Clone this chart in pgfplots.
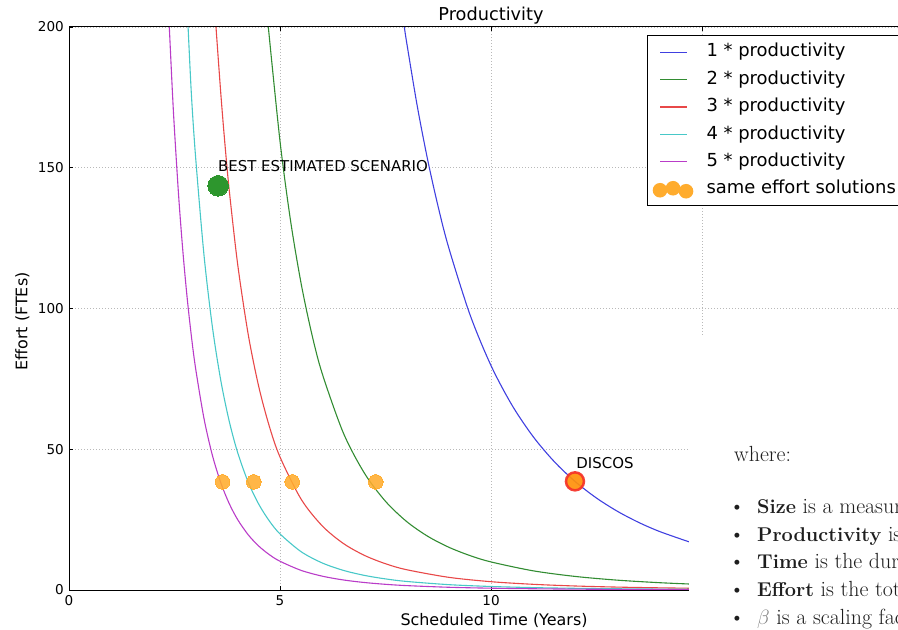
\documentclass[border=0pt]{standalone}
\usepackage{fontspec}
\setsansfont{DejaVu Sans}
\usepackage{pgfplots}
\pgfplotsset{compat=1.18}
\definecolor{cblue}{RGB}{64,64,224}
\definecolor{cgreen}{RGB}{50,140,50}
\definecolor{cred}{RGB}{232,72,72}
\definecolor{ccyan}{RGB}{72,200,200}
\definecolor{cmag}{RGB}{185,60,200}
\definecolor{orangept}{RGB}{255,172,45}
\definecolor{dotgreen}{RGB}{45,150,45}
\definecolor{dotred}{RGB}{245,50,40}
\definecolor{discosfill}{RGB}{255,145,10}
\definecolor{doctext}{RGB}{30,30,30}
\begin{document}
\begin{tikzpicture}
\useasboundingbox (0,0) rectangle (898bp,630bp);
\clip (0,0) rectangle (898bp,630bp);
\begin{axis}[
  at={(69bp,40bp)}, anchor=south west, scale only axis,
  width=844bp, height=563bp,
  xmin=0, xmax=20, ymin=0, ymax=200,
  xtick={0,5,10,15,20}, ytick={0,50,100,150,200},
  tick align=inside, major tick length=4bp,
  axis line style={line width=1bp, black},
  tick style={line width=0.8bp, black},
  grid=major,
  major grid style={gray!55, line width=0.7bp, dash pattern=on 1bp off 2bp},
  /pgf/number format/assume math mode=true,
  ticklabel style={font=\sffamily\fontsize{13.6}{16}\selectfont, inner sep=0pt},
  xticklabel style={anchor=north, yshift=-5bp},
  yticklabel style={anchor=east, xshift=-5bp},
  legend cell align=left,
  legend style={at={(0.6848,0.9858)}, anchor=north west, draw=black, line width=1bp,
    fill=white, font=\sffamily\fontsize{18}{22}\selectfont,
    inner xsep=12bp, inner ysep=8bp, row sep=9.9bp, column sep=19bp,
    nodes={inner sep=0pt, text height=13.5bp, text depth=4bp}},
  legend image code/.code={\draw[#1] (0bp,0bp) -- (27bp,0bp);},
]
\addplot[cblue, line width=1.1bp, smooth] coordinates {(7.946,200) (8.0,194.65) (8.25,172.11) (8.5,152.74) (8.75,136.02) (9.0,121.52) (9.5,97.89) (10,79.73) (10.5,65.59) (11,54.46) (11.5,45.59) (12,38.45) (12.5,32.66) (13,27.92) (13.5,24.00) (14,20.75) (14.7,17.07)};
\addlegendentry{1 * productivity}
\addplot[cgreen, line width=1.1bp, smooth] coordinates {(4.723,200) (5.0,159.46) (5.25,131.19) (5.5,108.91) (5.75,91.17) (6.0,76.90) (6.5,55.83) (7.0,41.51) (7.5,31.50) (8.0,24.33) (8.5,19.09) (9.0,15.19) (9.5,12.24) (10,9.97) (11,6.81) (12,4.81) (13,3.49) (14,2.59) (14.7,2.13)};
\addlegendentry{2 * productivity}
\addplot[cred, line width=1.1bp, smooth] coordinates {(3.483,200) (3.6,175.81) (3.7,157.56) (3.8,141.62) (4.0,115.35) (4.25,90.51) (4.5,72.01) (4.75,58.01) (5.0,47.25) (5.5,32.27) (6.0,22.79) (6.5,16.54) (7.0,12.30) (7.5,9.33) (8.0,7.21) (9.0,4.50) (10,2.95) (11,2.02) (12,1.42) (13,1.03) (14,0.77) (14.7,0.63)};
\addlegendentry{3 * productivity}
\addplot[ccyan, line width=1.1bp, smooth] coordinates {(2.822,200) (2.9,176.14) (3.0,153.80) (3.2,118.81) (3.4,93.23) (3.6,74.17) (3.8,59.75) (4.0,48.66) (4.25,38.18) (4.5,30.38) (4.75,24.47) (5.0,19.93) (5.5,13.61) (6.0,9.61) (6.5,6.98) (7.0,5.19) (7.5,3.94) (8.0,3.04) (9.0,1.90) (10,1.25) (11,0.85) (12,0.60) (13,0.44) (14,0.32) (14.7,0.27)};
\addlegendentry{4 * productivity}
\addplot[cmag, line width=1.1bp, smooth] coordinates {(2.377,200) (2.45,177.03) (2.5,163.29) (2.6,139.58) (2.7,120.02) (2.8,103.77) (2.9,90.18) (3.0,78.75) (3.2,60.83) (3.4,47.73) (3.6,37.98) (3.8,30.59) (4.0,24.92) (4.25,19.55) (4.5,15.55) (4.75,12.53) (5.0,10.21) (5.5,6.97) (6.0,4.92) (6.5,3.57) (7.0,2.66) (7.5,2.02) (8.0,1.56) (9.0,0.97) (10,0.64) (11,0.44) (12,0.31) (13,0.22) (14,0.17) (14.7,0.14)};
\addlegendentry{5 * productivity}
\addplot[orangept, only marks, mark=*, mark size=7.3bp, mark options={fill=orangept, draw=orangept, line width=0pt, opacity=0.88},
  legend image code/.code={
    \fill[orangept, draw=none, overlay] (0bp,-1bp) circle (7.3bp);
    \fill[orangept, draw=none, overlay] (13bp,1bp) circle (7.3bp);
    \fill[orangept, draw=none, overlay] (26bp,-2bp) circle (7.3bp);
    \path[draw=none] (0bp,0bp) -- (27bp,0bp);}]
  coordinates {(3.64,38.4) (4.38,38.4) (5.29,38.4) (7.27,38.4)};
\addlegendentry{same effort solutions}
\addplot[dotgreen, only marks, mark=*, mark size=10.3bp, mark options={fill=dotgreen, draw=dotgreen, line width=0pt}, forget plot]
  coordinates {(3.536,143.6)};
\addplot[dotred, only marks, mark=*, mark size=9bp, mark options={fill=discosfill, draw=dotred, line width=2.5bp, opacity=0.92}, forget plot]
  coordinates {(11.99,38.6)};
\node[anchor=base west, inner sep=0pt, font=\sffamily\fontsize{15}{18}\selectfont] at (axis cs:3.53,148.7) {BEST ESTIMATED SCENARIO};
\node[anchor=base west, inner sep=0pt, font=\sffamily\fontsize{15}{18}\selectfont] at (axis cs:12.02,43.2) {DISCOS};
\end{axis}
\node[anchor=base, inner sep=0pt, font=\sffamily\fontsize{17.8}{21}\selectfont] at (491bp,609.3bp) {Productivity};
\node[anchor=base, inner sep=0pt, font=\sffamily\fontsize{16}{19}\selectfont] at (494bp,4.5bp) {Scheduled Time (Years)};
\node[anchor=base, rotate=90, inner sep=0pt, font=\sffamily\fontsize{16}{19}\selectfont] at (27.3bp,308.5bp) {Effort (FTEs)};
\fill[white] (689bp,0bp) rectangle (898bp,293bp);
\begin{scope}[every node/.style={inner sep=0pt, text=doctext, font=\fontsize{22}{26}\selectfont}]
\node[anchor=base west] at (734bp,168.3bp) {where:};
\node[anchor=base] at (737bp,116bp) {\textbullet};
\node[anchor=base] at (737bp,88.5bp) {\textbullet};
\node[anchor=base] at (737bp,61bp) {\textbullet};
\node[anchor=base] at (737bp,33.5bp) {\textbullet};
\node[anchor=base] at (737bp,6bp) {\textbullet};
\node[anchor=base west] at (757bp,116bp) {{\fontsize{20}{26}\selectfont\textbf{Size}} is a measure of};
\node[anchor=base west] at (757bp,88.5bp) {{\fontsize{20}{26}\selectfont\textbf{Productivity}} is the};
\node[anchor=base west] at (757bp,61bp) {{\fontsize{20}{26}\selectfont\textbf{Time}} is the duration};
\node[anchor=base west] at (757bp,33.5bp) {{\fontsize{20}{26}\selectfont\textbf{Effort}} is the total};
\node[anchor=base west] at (757bp,6bp) {\textcolor{gray}{$\beta$} is a scaling factor};
\end{scope}
\end{tikzpicture}
\end{document}
